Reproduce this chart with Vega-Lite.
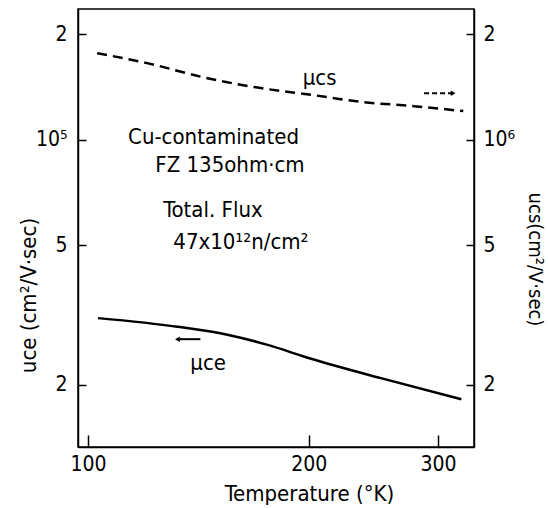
{
  "$schema": "https://vega.github.io/schema/vega-lite/v6.json",
  "width": 396,
  "height": 438,
  "autosize": {"type": "none"},
  "padding": {"left": 78, "top": 9, "right": 74, "bottom": 61},
  "background": "white",
  "config": {
    "view": {"stroke": "black", "strokeWidth": 1.5},
    "font": "DejaVu Sans Condensed",
    "axis": {
      "grid": false,
      "domainColor": "black",
      "domainWidth": 1.5,
      "tickColor": "black",
      "tickWidth": 1.5,
      "labelColor": "black",
      "labelFontSize": 21,
      "labelFont": "DejaVu Sans Condensed",
      "titleFont": "DejaVu Sans Condensed",
      "titleFontSize": 22,
      "titleFontWeight": "normal",
      "titleColor": "black"
    }
  },
  "datasets": {
    "ce": [
      {"T": 103.2, "v": 31000},
      {"T": 132.4, "v": 29300},
      {"T": 154.9, "v": 27800},
      {"T": 175.8, "v": 26000},
      {"T": 199.3, "v": 23900},
      {"T": 250.8, "v": 20900},
      {"T": 322.9, "v": 18200}
    ],
    "cs": [
      {"T": 102.9, "v": 1766000},
      {"T": 120.4, "v": 1654000},
      {"T": 145.5, "v": 1498000},
      {"T": 172.0, "v": 1404000},
      {"T": 203.2, "v": 1340000},
      {"T": 237.8, "v": 1280000},
      {"T": 278.4, "v": 1247000},
      {"T": 324.9, "v": 1207000}
    ],
    "notes": [
      {"T": 113.4, "v": 101700, "label": "Cu-contaminated"},
      {"T": 123.5, "v": 84700, "label": "FZ  135ohm·cm"},
      {"T": 126.6, "v": 63000, "label": "Total.  Flux"},
      {"T": 130.7, "v": 51100, "label": "47x10¹²n/cm²"}
    ],
    "ceLabel": [{"T": 137.9, "v": 23100, "label": "μce"}],
    "ceArrow": [{"T": 132.4, "T2": 142.3, "v": 27000}],
    "csLabel": [{"T": 196.2, "v": 1500000, "label": "μcs"}],
    "csArrow": [{"T": 287.2, "T2": 314.7, "v": 1358000}]
  },
  "encoding": {
    "x": {
      "field": "T",
      "type": "quantitative",
      "scale": {"type": "log", "domain": [96.9, 336], "nice": false},
      "axis": {
        "values": [100, 200, 300],
        "format": "d",
        "tickSize": -12,
        "labelPadding": 18,
        "title": "Temperature (°K)",
        "titleX": 231,
        "titleY": 46,
        "titleBaseline": "middle"
      }
    }
  },
  "layer": [
    {
      "encoding": {
        "y": {
          "field": "v",
          "type": "quantitative",
          "scale": {"type": "log", "domain": [13300, 236000], "nice": false},
          "axis": {
            "orient": "left",
            "values": [20000, 50000, 100000, 200000],
            "labelExpr": "datum.value == 100000 ? '10⁵' : datum.value == 50000 ? '5' : '2'",
            "tickSize": -8,
            "labelPadding": 19,
            "title": "uce (cm²/V·sec)",
            "titleX": -50,
            "titleY": 286,
            "titleBaseline": "middle"
          }
        }
      },
      "layer": [
        {
          "data": {"name": "ce"},
          "mark": {"type": "line", "color": "black", "strokeWidth": 2.5, "interpolate": "monotone"}
        },
        {
          "data": {"name": "notes"},
          "mark": {"type": "text", "align": "left", "baseline": "middle", "fontSize": 22, "color": "black"},
          "encoding": {"text": {"field": "label"}}
        },
        {
          "data": {"name": "ceLabel"},
          "mark": {"type": "text", "align": "left", "baseline": "middle", "fontSize": 22, "color": "black"},
          "encoding": {"text": {"field": "label"}}
        },
        {
          "data": {"name": "ceArrow"},
          "mark": {"type": "rule", "color": "black", "strokeWidth": 2},
          "encoding": {"x2": {"field": "T2"}}
        },
        {
          "data": {"name": "ceArrow"},
          "mark": {"type": "point", "shape": "triangle-left", "filled": true, "color": "black", "size": 30, "opacity": 1}
        }
      ]
    },
    {
      "encoding": {
        "y": {
          "field": "v",
          "type": "quantitative",
          "scale": {"type": "log", "domain": [133000, 2360000], "nice": false},
          "axis": {
            "orient": "right",
            "values": [200000, 500000, 1000000, 2000000],
            "labelExpr": "datum.value == 1000000 ? '10⁶' : datum.value == 500000 ? '5' : '2'",
            "tickSize": -8,
            "labelPadding": 17,
            "title": "ucs(cm²/V·sec)",
            "titleFontSize": 20,
            "titleX": 60,
            "titleY": 250,
            "titleBaseline": "middle"
          }
        }
      },
      "layer": [
        {
          "data": {"name": "cs"},
          "mark": {"type": "line", "color": "black", "strokeWidth": 2.5, "strokeDash": [10, 6], "interpolate": "monotone"}
        },
        {
          "data": {"name": "csLabel"},
          "mark": {"type": "text", "align": "left", "baseline": "middle", "fontSize": 22, "color": "black"},
          "encoding": {"text": {"field": "label"}}
        },
        {
          "data": {"name": "csArrow"},
          "mark": {"type": "rule", "color": "black", "strokeWidth": 2, "strokeDash": [5, 3]},
          "encoding": {"x2": {"field": "T2"}}
        },
        {
          "data": {"name": "csArrow"},
          "mark": {"type": "point", "shape": "triangle-right", "filled": true, "color": "black", "size": 30, "opacity": 1},
          "encoding": {"x": {"field": "T2", "type": "quantitative"}}
        }
      ]
    }
  ],
  "resolve": {"scale": {"y": "independent"}}
}
